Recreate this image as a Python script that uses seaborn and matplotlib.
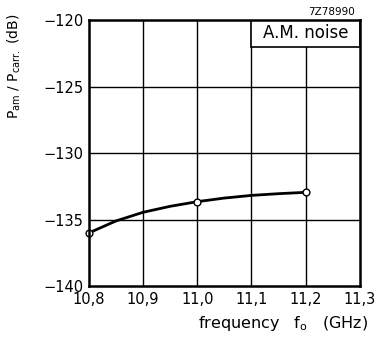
import matplotlib
matplotlib.use("Agg")

import pandas as pd
import matplotlib.pyplot as plt
import seaborn as sns
from matplotlib.patches import Rectangle

# Data
freq_points = [10.8, 11.0, 11.2]
noise_points = [-136.0, -133.65, -132.95]

# smooth curve traced through the measured points
freq_curve = [10.8, 10.85, 10.9, 10.95, 11.0, 11.05, 11.1, 11.15, 11.2]
noise_curve = [-136.0, -135.1, -134.45, -134.0, -133.65, -133.38, -133.18, -133.05, -132.95]

x_ticks = [10.8, 10.9, 11.0, 11.1, 11.2, 11.3]
x_ticklabels = ["10,8", "10,9", "11,0", "11,1", "11,2", "11,3"]
y_ticks = [-140, -135, -130, -125, -120]

sns.set_style("white")
plt.rcParams["font.family"] = ["DejaVu Sans"]
plt.rcParams["text.color"] = "black"
plt.rcParams["axes.labelcolor"] = "black"
plt.rcParams["xtick.color"] = "black"
plt.rcParams["ytick.color"] = "black"

pts = pd.DataFrame({"freq": freq_points, "noise": noise_points})
curve = pd.DataFrame({"freq": freq_curve, "noise": noise_curve})

fig = plt.figure(figsize=(3.8, 3.41), dpi=100)
ax = fig.add_axes([0.234, 0.161, 0.713, 0.780])

# grid
for xv in x_ticks[1:-1]:
    ax.axvline(xv, color="black", lw=1.0, zorder=1)
for yv in y_ticks[1:-1]:
    ax.axhline(yv, color="black", lw=1.0, zorder=1)

sns.lineplot(data=curve, x="freq", y="noise", color="black", lw=2.0, ax=ax, zorder=3)
sns.scatterplot(data=pts, x="freq", y="noise", s=24, color="white",
                edgecolor="black", linewidth=1.0, ax=ax, zorder=4, clip_on=False)

ax.set_xlim(10.8, 11.3)
ax.set_ylim(-140, -120)
ax.set_xticks(x_ticks)
ax.set_xticklabels(x_ticklabels)
ax.set_yticks(y_ticks)
ax.set_yticklabels(["\u2212" + str(abs(v)) for v in y_ticks])
ax.tick_params(axis="both", length=0, labelsize=10.5, pad=4)
for s in ax.spines.values():
    s.set_color("black")
    s.set_linewidth(1.8)
    s.set_zorder(7)

ax.set_xlabel(r"frequency   f$_{\rm o}$   (GHz)", fontsize=11.5)
ax.xaxis.set_label_coords(1.03, -0.105)
ax.xaxis.label.set_horizontalalignment("right")
ax.set_ylabel(r"P$_{\rm am}$ / P$_{\rm carr.}$ (dB)", fontsize=10)
ax.yaxis.set_label_coords(-0.245, 0.825)

# label box in the top right corner, sitting on the 11,1 and -122 lines
ax.add_patch(Rectangle((11.1, -122), 0.2, 2, fc="white", ec="black", lw=1.2, zorder=5))
ax.text(11.2, -121.0, "A.M. noise", fontsize=12, ha="center", va="center", zorder=6)
ax.text(0.98, 1.012, "7Z78990", transform=ax.transAxes, fontsize=7.5,
        ha="right", va="bottom")

if ax.get_legend():
    ax.get_legend().remove()

fig.savefig("out.png", dpi=100)
